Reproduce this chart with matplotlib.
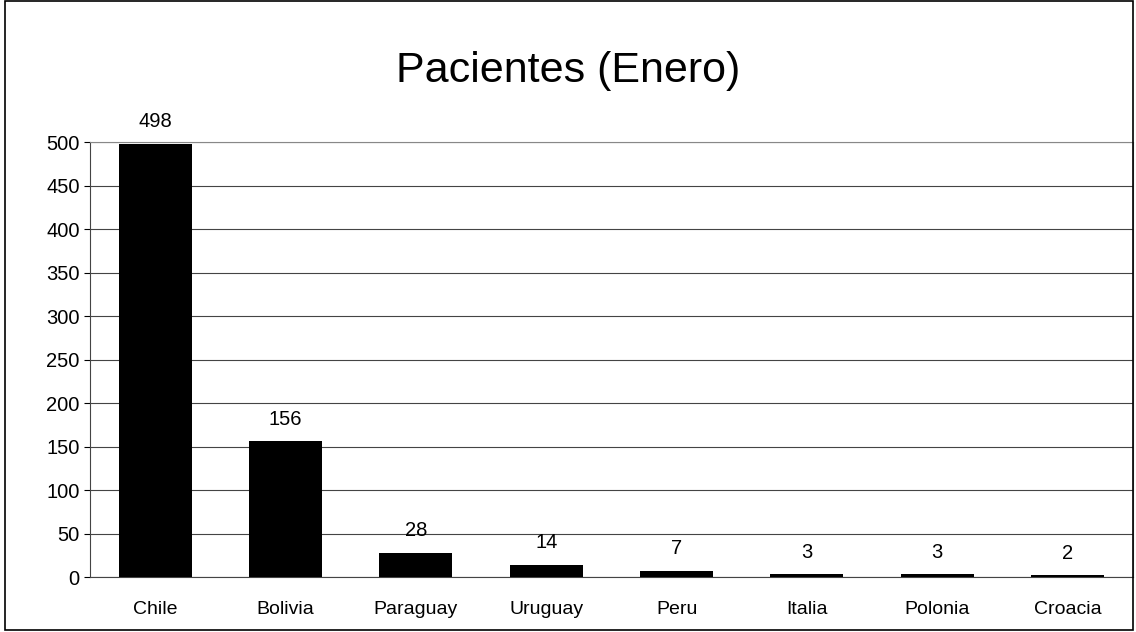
import matplotlib
matplotlib.use("Agg")
import matplotlib.pyplot as plt
from matplotlib.patches import Rectangle

categories = ["Chile", "Bolivia", "Paraguay", "Uruguay", "Peru", "Italia", "Polonia", "Croacia"]
values = [498, 156, 28, 14, 7, 3, 3, 2]
yticks = [0, 50, 100, 150, 200, 250, 300, 350, 400, 450, 500]

plt.rcParams['font.family'] = ['Liberation Sans', 'DejaVu Sans']
fig = plt.figure(figsize=(11.36, 6.32), dpi=100)
ax = fig.add_axes([0.0792, 0.087, 0.918, 0.688])

x = range(len(categories))
ax.bar(x, values, width=0.56, color="black", zorder=3)
for xi, v in zip(x, values):
    ax.annotate(str(v), (xi, v), xytext=(0, 9), textcoords="offset points",
                ha="center", va="bottom", fontsize=14.5)

ax.set_xlim(-0.5, len(categories) - 0.5)
ax.set_ylim(0, 500)
ax.set_yticks(yticks)
ax.set_xticks(list(x))
ax.set_xticklabels(categories, fontsize=14)
ax.tick_params(axis="y", labelsize=14.5, length=4, width=0.8)
ax.tick_params(axis="x", length=0, pad=17)
ax.yaxis.grid(True, color="#444444", linewidth=0.8, zorder=0)
for s in ["top", "right"]:
    ax.spines[s].set_color("#888888")
    ax.spines[s].set_linestyle((0, (1, 1)))
ax.spines["left"].set_color("#444444")
ax.spines["bottom"].set_color("#444444")

fig.text(0.5, 0.888, "Pacientes (Enero)", ha="center", va="center", fontsize=31)

fig.patches.append(Rectangle((0.004, 0.003), 0.993, 0.995, transform=fig.transFigure,
                             fill=False, edgecolor="black", linewidth=1.2))

fig.savefig("out.png", dpi=100)
